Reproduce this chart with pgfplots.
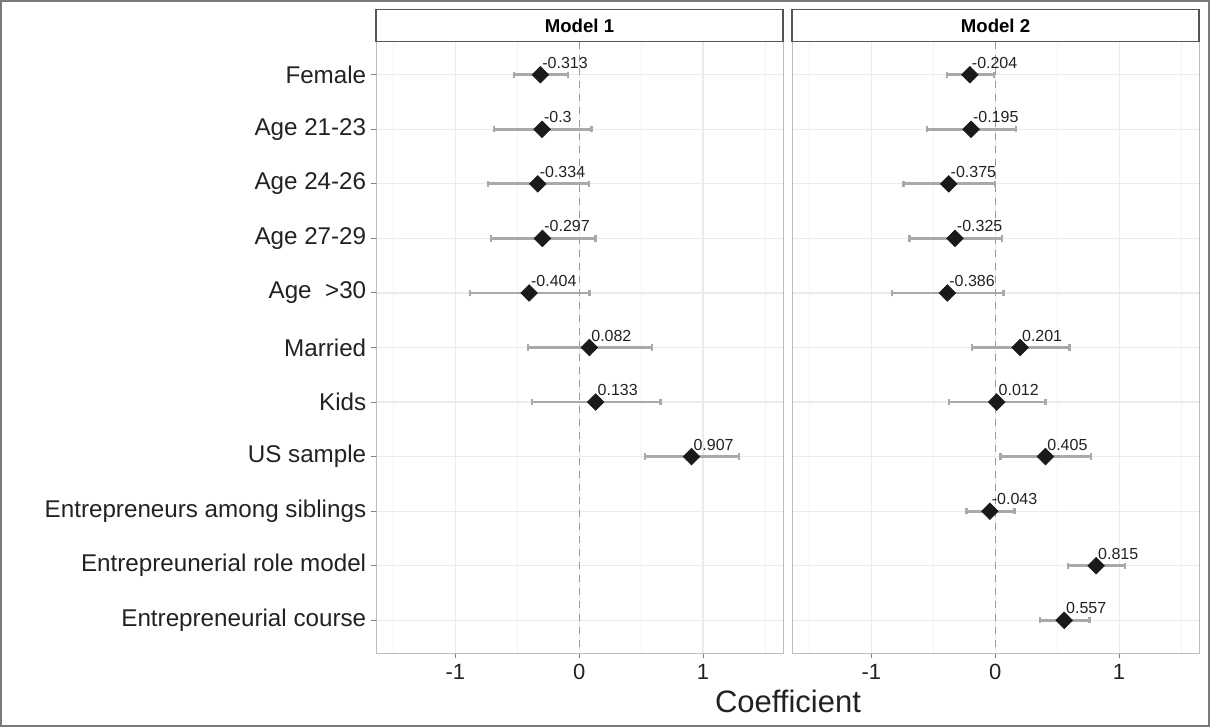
\documentclass[border=0pt]{standalone}
\usepackage{pgfplots}
\pgfplotsset{compat=1.18}
\usepackage{pgfplotstable}
\usepackage{fontspec}
\setmainfont{Liberation Sans}

\definecolor{gridmaj}{HTML}{EBEBEB}
\definecolor{gridmin}{HTML}{F4F4F4}
\definecolor{panelb}{HTML}{BDBDBD}
\definecolor{stripb}{HTML}{555555}
\definecolor{errc}{HTML}{A9A9A9}
\definecolor{ptc}{HTML}{1A1A1A}
\definecolor{zeroc}{HTML}{9A9A9A}
\definecolor{txt}{HTML}{222222}
\definecolor{frame}{HTML}{7A7A7A}

% y x lo hi lab
\pgfplotstableread{
y x lo hi lab
1 -0.313 -0.528 -0.090 -0.313
2 -0.300 -0.688 0.098 -0.3
3 -0.334 -0.737 0.079 -0.334
4 -0.297 -0.713 0.130 -0.297
5 -0.404 -0.880 0.083 -0.404
6 0.082 -0.413 0.587 0.082
7 0.133 -0.379 0.655 0.133
8 0.907 0.531 1.290 0.907
}\modelone

\pgfplotstableread{
y x lo hi lab
1 -0.204 -0.389 -0.011 -0.204
2 -0.195 -0.550 0.168 -0.195
3 -0.375 -0.740 -0.002 -0.375
4 -0.325 -0.692 0.055 -0.325
5 -0.386 -0.832 0.068 -0.386
6 0.201 -0.188 0.599 0.201
7 0.012 -0.373 0.406 0.012
8 0.405 0.042 0.775 0.405
9 -0.043 -0.233 0.156 -0.043
10 0.815 0.587 1.050 0.815
11 0.557 0.360 0.760 0.557
}\modeltwo

\pgfplotsset{
  panel/.style={
    scale only axis,
    width=203.5pt, height=305.5pt,
    anchor=south west,
    xmin=-1.64, xmax=1.645,
    ymin=0.4, ymax=11.6,
    y dir=reverse,
    xtick={-1,0,1},
    xticklabels={-1,0,1},
    minor xtick={-1.5,-0.5,0.5,1.5},
    ytick={1,...,11},
    grid=both,
    major grid style={draw=gridmaj, line width=0.6pt},
    minor grid style={draw=gridmin, line width=0.4pt},
    axis line style={draw=panelb, line width=0.5pt},
    tick align=outside,
    xtick pos=lower, ytick pos=left,
    major tick length=2.5pt,
    minor tick length=0pt,
    tick style={draw=gray, line width=0.5pt},
    xticklabel style={font=\fontsize{11}{12}\selectfont, text=txt, anchor=base, inner sep=0pt, yshift=-10.5pt},
    every axis title shift=0pt,
    title style={at={(0.5,1)}, anchor=south, yshift=0pt, draw=stripb, fill=white, line width=0.6pt,
      minimum width=203.5pt, minimum height=16pt, inner sep=0pt,
      font=\bfseries\fontsize{9.3}{10}\selectfont, text=black},
    clip=false,
  },
  errplot/.style={
    draw=none, mark=none, forget plot,
    error bars/.cd, x dir=both, x explicit,
    error bar style={draw=errc, line width=1.4pt, solid},
    error mark options={draw=errc, line width=1.2pt, mark size=1.6pt, rotate=90},
  },
  ptplot/.style={
    only marks, mark=square*, mark size=2.9pt,
    mark options={rotate=45, fill=ptc, draw=ptc},
    point meta=explicit symbolic,
    nodes near coords,
    every node near coord/.style={anchor=base west, inner sep=0pt, xshift=0.8pt, yshift=3.2pt,
      font=\fontsize{8}{9}\selectfont, text=txt},
  },
}

\begin{document}
\begin{tikzpicture}[x=1pt,y=1pt]
\useasboundingbox (0,0) rectangle (605,363.5);
\draw[frame, line width=1.1pt] (0.55,0.55) rectangle (604.45,362.95);

\begin{axis}[panel, at={(188pt,37pt)}, title={Model 1},
  yticklabels={Female, Age 21-23, Age 24-26, Age 27-29, Age\ \ >30, Married, Kids, US sample, Entrepreneurs among siblings, Entrepreunerial role model, Entrepreneurial course},
  yticklabel style={font=\fontsize{12.1}{14}\selectfont, text=txt, anchor=east, inner sep=0pt, xshift=-2.2pt},
]
\addplot[draw=zeroc, dash pattern=on 3.5pt off 3pt, line width=0.6pt, forget plot] coordinates {(0,0.4) (0,11.6)};
\addplot[errplot] table[x=x, y=y, x error plus expr=\thisrow{hi}-\thisrow{x}, x error minus expr=\thisrow{x}-\thisrow{lo}] {\modelone};
\addplot[ptplot] table[x=x, y=y, meta=lab] {\modelone};
\end{axis}

\begin{axis}[panel, at={(396pt,37pt)}, title={Model 2},
  yticklabels={}, ytick style={draw=none},
]
\addplot[draw=zeroc, dash pattern=on 3.5pt off 3pt, line width=0.6pt, forget plot] coordinates {(0,0.4) (0,11.6)};
\addplot[errplot] table[x=x, y=y, x error plus expr=\thisrow{hi}-\thisrow{x}, x error minus expr=\thisrow{x}-\thisrow{lo}] {\modeltwo};
\addplot[ptplot] table[x=x, y=y, meta=lab] {\modeltwo};
\end{axis}

\node[anchor=base, font=\fontsize{15.5}{17}\selectfont, text=txt, inner sep=0pt] at (394,7) {Coefficient};
\end{tikzpicture}
\end{document}
